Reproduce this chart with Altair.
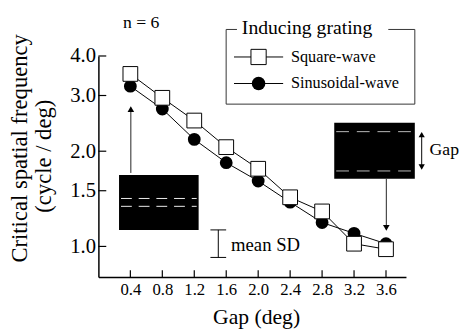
import altair as alt
import pandas as pd

# ---- data ----
gaps = [0.4, 0.8, 1.2, 1.6, 2.0, 2.4, 2.8, 3.2, 3.6]
square_wave = [3.51, 2.95, 2.50, 2.06, 1.76, 1.43, 1.29, 1.02, 0.98]
sinusoidal_wave = [3.21, 2.72, 2.18, 1.84, 1.61, 1.38, 1.19, 1.10, 1.02]
y_ticks = [1.0, 1.5, 2.0, 3.0, 4.0]
x_ticks = [0.4, 0.8, 1.2, 1.6, 2.0, 2.4, 2.8, 3.2, 3.6]

FONT = "Liberation Serif"
W, H = 313, 225

xscale = alt.Scale(domain=[0, 3.85], nice=False, zero=False)
yscale = alt.Scale(type="log", domain=[0.8, 4.0], nice=False, zero=False)

xaxis = alt.Axis(values=x_ticks, format=".1f", ticks=False, grid=False, title=None,
                 labelFont=FONT, labelFontSize=17, labelPadding=5, labelColor="black",
                 labelOverlap=False, labelFlush=False, domainColor="black", domainWidth=1.5)
yaxis = alt.Axis(values=y_ticks, format=".1f", ticks=False, grid=False, title=None,
                 labelFont=FONT, labelFontSize=21, labelPadding=3, labelColor="black",
                 labelOverlap=False, labelFlush=False, domainColor="black", domainWidth=1.5)

df = pd.DataFrame({
    "gap": gaps + gaps,
    "freq": square_wave + sinusoidal_wave,
    "series": ["Square-wave"] * len(gaps) + ["Sinusoidal-wave"] * len(gaps),
})
sq = df[df.series == "Square-wave"]
si = df[df.series == "Sinusoidal-wave"]

X = alt.X("gap:Q", scale=xscale, axis=xaxis)
Y = alt.Y("freq:Q", scale=yscale, axis=yaxis)

lines = alt.Chart(df).mark_line(color="black", strokeWidth=1).encode(x=X, y=Y, detail="series:N")
circles = alt.Chart(si).mark_point(shape="circle", filled=True, size=170, color="black", opacity=1).encode(x=X, y=Y)
squares = alt.Chart(sq).mark_point(shape="square", filled=True, size=225, fill="white",
                                   stroke="black", strokeWidth=1, opacity=1).encode(x=X, y=Y)

# inward ticks
ytick_df = pd.DataFrame({"freq": y_ticks})
xtick_df = pd.DataFrame({"gap": x_ticks})
yticks = alt.Chart(ytick_df).mark_rule(color="black", strokeWidth=1.2).encode(
    y=Y, x=alt.value(0), x2=alt.value(8))
xticks = alt.Chart(xtick_df).mark_rule(color="black", strokeWidth=1.2).encode(
    x=X, y=alt.value(H), y2=alt.value(H - 7))

one = pd.DataFrame({"a": [0]})


def rule(x, x2, y, y2, color="black", width=1, dash=None):
    kw = dict(color=color, strokeWidth=width)
    if dash:
        kw["strokeDash"] = dash
    return alt.Chart(one).mark_rule(**kw).encode(
        x=alt.value(x), x2=alt.value(x2), y=alt.value(y), y2=alt.value(y2))


def text(t, x, y, size=15, align="left", baseline="middle", angle=0):
    return alt.Chart(one).mark_text(text=t, font=FONT, fontSize=size, align=align,
                                    baseline=baseline, angle=angle, color="black").encode(
        x=alt.value(x), y=alt.value(y))


def tri(shape, x, y, size=45):
    return alt.Chart(one).mark_point(shape=shape, filled=True, size=size, color="black",
                                     opacity=1).encode(x=alt.value(x), y=alt.value(y))


def rect(x, x2, y, y2):
    return alt.Chart(one).mark_rect(color="black").encode(
        x=alt.value(x), x2=alt.value(x2), y=alt.value(y), y2=alt.value(y2))


annot = [
    # legend box
    rule(130, 130, -27, 49, color="#333"),
    rule(322, 322, -27, 49, color="#333"),
    rule(130, 322, 49, 49, color="#333"),
    rule(130, 141, -27, -27, color="#333"),
    rule(295, 322, -27, -27, color="#333"),
    text("Inducing grating", 146, -28, size=20),
    rule(138, 188, 1, 1),
    rule(138, 188, 28, 28),
    alt.Chart(one).mark_point(shape="circle", filled=True, size=190, color="black", opacity=1).encode(
        x=alt.value(163), y=alt.value(28)),
    alt.Chart(one).mark_point(shape="square", filled=True, size=240, fill="white", stroke="black",
                              strokeWidth=1, opacity=1).encode(x=alt.value(163), y=alt.value(1)),
    text("Square-wave", 196, 1, size=16.5),
    text("Sinusoidal-wave", 196, 28, size=16.5),
    text("n = 6", 25, -33, size=18),
    # left inset
    rect(21, 102, 121, 177),
    rule(23, 100, 145, 145, color="#eeeeee", dash=[11, 7]),
    rule(23, 100, 153, 153, color="#eeeeee", dash=[11, 7]),
    rule(33, 33, 119, 54, color="#222"),
    tri("triangle-up", 33, 54),
    # right inset
    rect(240, 322, 68, 125),
    rule(242, 320, 77, 77, color="#bbbbbb", dash=[13, 8]),
    rule(242, 320, 117, 117, color="#bbbbbb", dash=[13, 8]),
    rule(329, 329, 80, 113),
    tri("triangle-up", 329, 80, size=40),
    tri("triangle-down", 329, 113, size=40),
    text("Gap", 337, 96, size=18),
    rule(293, 293, 125, 175, color="#222"),
    tri("triangle-down", 293, 175),
    # mean SD bar
    rule(122, 122, 177, 205),
    rule(114, 130, 177, 177),
    rule(114, 130, 205, 205),
    text("mean SD", 135, 192, size=19),
    # axis titles
    text("Critical spatial frequency", -80, 94, size=23, align="center", angle=270),
    text("(cycle / deg)", -55, 102, size=23, align="center", angle=270),
    text("Gap (deg)", 161, 273, size=22, align="center", baseline="alphabetic"),
]

chart = alt.layer(lines, circles, squares, yticks, xticks, *annot).properties(
    width=W, height=H,
    autosize=alt.AutoSizeParams(type="none"),
    padding={"left": 92, "top": 46, "right": 56, "bottom": 50},
).configure_view(stroke=None)

chart.save("out.html", embed_options={"renderer": "svg", "actions": False})
